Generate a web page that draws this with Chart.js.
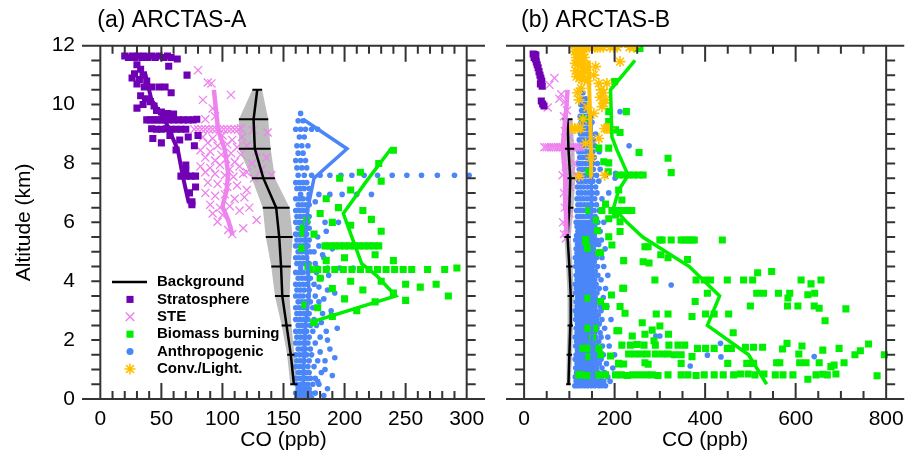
<!DOCTYPE html>
<html>
<head>
<meta charset="utf-8">
<script src="https://cdn.jsdelivr.net/npm/chart.js"></script>
<style>
  html, body { margin: 0; padding: 0; background: #fff; }
  #wrap { position: relative; width: 912px; height: 462px; }
  #wrap canvas { position: absolute; left: 0; top: 0; }
</style>
</head>
<body>
<div id="wrap">
  <canvas id="chartA" width="912" height="462"></canvas>
  <canvas id="chartB" width="912" height="462"></canvas>
</div>
<script>
// ---------- data (CO in ppb, altitude in km) ----------

// (a) ARCTAS-A
const bgAltA = [0.5, 1.5, 2.5, 3.5, 4.5, 5.5, 6.5, 7.5, 8.5, 9.5, 10.5];
const bgCoA  = [158.5, 156, 152.5, 149, 148, 146.5, 144, 133.5, 126.5, 125.5, 128.5];
const bgSdA  = [3, 3, 4, 6, 8, 11, 11, 9.5, 13, 12, 4];

const stratoLineA = [[72.5,6.65],[67.6,7.55],[63.5,8.46],[52.8,9.48],[41.9,10.16],[36.4,11.12]];
const steLineA = [[108.3,5.57],[104.7,6.08],[100,6.53],[103.5,7.1],[104.7,7.67],[102,8.46],[96.4,9.16],[93,10.5]];
const bioLineA = [[172,2.6],[242,3.5],[226,4.2],[214,4.6],[206,5.5],[199,6.3],[218,7.4],[238,8.5]];
const anthLineA = [[166,0.5],[167,1.5],[168,2.5],[171,3.5],[170,4.5],[168,5.5],[170,6.5],[175,7.5],[202,8.5],[166,9.5]];

const stratoPtsA = [[20,11.65],[23,11.6],[26,11.65],[28,11.6],[31,11.65],[34,11.6],[36,11.65],[39,11.6],[42,11.65],
  [45,11.6],[48,11.65],[52,11.6],[55,11.65],[58,11.6],[63,11.55],[56,11.3],[71,11.0],[30,11.35],[33,11.2],[28,11.05],
  [35,11.0],[26,10.9],[32,10.85],[38,10.8],[30,10.7],[36,10.6],[42,10.6],[48,10.6],[53,10.6],[58,10.4],[33,10.3],
  [37,10.2],[41,10.1],[35,10.0],[44,9.95],[30,9.88],[46,9.8],[50,9.75],[55,9.7],[60,9.68],[38,9.48],[41,9.48],
  [44,9.48],[47,9.48],[50,9.48],[53,9.48],[56,9.48],[60,9.48],[64,9.48],[68,9.48],[72,9.48],[76,9.48],[79,9.5],
  [42,9.18],[46,9.16],[50,9.16],[54,9.18],[58,9.16],[62,9.16],[66,9.16],[70,9.16],[43,8.85],[50,8.7],[57,8.95],
  [65,8.8],[72,8.9],[80,8.95],[62,8.46],[77,8.6],[70,7.95],[70,7.75],[66,7.57],[70,7.57],[74,7.57],[78,7.57],
  [78,7.2],[73,7.0],[75,6.7],[75,6.6]];

const stePtsA = [[80,11.17],[88,10.75],[91,10.72],[107,10.33],[84,10.16],[92,9.87],[86,9.5],[94,9.6],[125,9.14],
  [137,9.05],[77,9.16],[80,9.16],[83,9.16],[86,9.16],[89,9.16],[92,9.16],[95,9.16],[98,9.16],[101,9.16],[104,9.16],
  [107,9.16],[110,9.16],[113,9.16],[115,9.2],[84,8.9],[92,8.85],[100,8.95],[108,8.8],[116,8.9],[88,8.7],[96,8.6],
  [104,8.65],[112,8.55],[82,8.45],[90,8.4],[99,8.3],[107,8.35],[115,8.3],[86,8.2],[94,8.1],[103,8.15],[110,8.05],
  [82,7.9],[90,7.85],[98,7.95],[106,7.8],[114,7.9],[86,7.7],[94,7.65],[102,7.6],[109,7.55],[117,7.65],[120,8.6],
  [128,8.4],[136,8.2],[124,8.0],[132,7.8],[140,7.6],[126,7.5],[120,7.7],[88,7.35],[96,7.3],[104,7.2],[112,7.25],
  [120,7.1],[86,7.0],[94,6.9],[102,6.95],[110,6.8],[118,6.85],[90,6.6],[98,6.5],[106,6.55],[114,6.4],[122,6.5],
  [92,6.3],[100,6.25],[128,6.08],[96,6.02],[117,5.8],[104.7,5.74],[108,5.6]];

const bioPtsA = [[166,5.64],[165,5.12],[170,4.5],[167.5,3.19],[169,6.08],[166,5.8],[240,8.45],[228,8.0],[213,7.7],
  [230,7.4],[196,7.5],[205,7.1],[185,6.8],[195,6.5],[180,6.3],[215,6.4],[222,6.1],[190,6.0],[205,5.9],[175,5.6],
  [230,5.7],[184,5.2],[188,5.2],[192,5.2],[196,5.2],[200,5.2],[204,5.2],[208,5.2],[212,5.2],[216,5.2],[220,5.2],
  [224,5.2],[228,5.2],[200,4.8],[225,4.9],[240,4.7],[185,4.7],[172,4.4],[178,4.4],[185,4.4],[192,4.4],[199,4.4],
  [206,4.4],[213,4.4],[220,4.4],[227,4.4],[234,4.4],[241,4.4],[248,4.4],[255,4.4],[268,4.4],[282,4.4],[292,4.45],
  [180,4.1],[205,4.0],[230,4.0],[250,3.9],[275,3.9],[190,3.75],[215,3.7],[240,3.6],[262,3.8],[285,3.5],[200,3.4],
  [225,3.3],[250,3.35],[178,3.1],[210,3.0],[190,2.8],[175,2.6]];

// dense anthropogenic cloud, one row per altitude: [km, [CO values]]
const anthRowsA = [[0.05,[161,164,167,170,173]],[0.2,[160,163,166,169,172,176]],[0.35,[162,165,168,171,186]],
  [0.5,[161,164,167,170,174,179]],[0.7,[160,163,166,169,172,176]],[0.9,[162,165,168,171,181]],
  [1.1,[160,163,166,170,175]],[1.3,[161,164,167,171,178,184]],[1.5,[160,163,166,169,173]],
  [1.7,[162,165,168,172,188]],[1.9,[160,163,166,170,176]],[2.1,[161,164,167,171,180]],
  [2.3,[160,163,166,169,174,185]],[2.5,[162,165,168,172,177]],[2.7,[160,163,166,170,175]],
  [2.9,[161,164,167,171,182]],[3.1,[160,163,166,169,174]],[3.3,[162,165,168,172,179]],
  [3.5,[160,163,166,170,176]],[3.7,[161,164,167,171,186]],[3.9,[160,163,166,169,175]],
  [4.1,[162,165,168,172,181]],[4.3,[160,163,166,170,177]],[4.45,[164,170,178,186,196,207]],
  [4.6,[161,164,167,171,176]],[4.8,[160,163,166,169,183]],[5.0,[162,165,168,172,175]],
  [5.2,[160,163,166,170,179]],[5.4,[161,164,167,171]],[5.6,[160,163,166,169]],[5.8,[162,165,168,171]],
  [6.0,[160,163,166,170,184,195]],[6.2,[161,164,167,171]],[6.4,[160,163,166,169]],[6.6,[162,165,168,171]],
  [6.8,[160,163,166,170]],[6.95,[164,171,179,188,198,210,222]],[7.15,[161,164,167,171]],[7.35,[160,163,166,169]],
  [7.6,[162,167,173,180,188,197,206,216,227,239,251,263,276,290,302]],[7.85,[161,165,169]],[8.1,[160,164,168]],
  [8.35,[162,166]],[8.6,[161,165,170]],[8.9,[163,167]],[9.16,[160,164,168,173,178]],[9.45,[162,166]],[9.7,[164]]];
const anthExtraA = [[183,0.12],[178,0.6],[190,0.8],[184,1.0],[192,1.4],[180,1.6],[186,2.0],[194,2.4],[181,2.6],
  [189,3.0],[183,3.4],[192,3.6],[179,3.8],[187,4.2],[182,4.9],[190,5.1],[178,5.5],[185,5.7],[180,6.3],[176,6.7]];

// (b) ARCTAS-B
const bgAltB = [0.5, 1.5, 2.5, 3.5, 4.5, 5.5, 6.5, 7.5, 8.5, 9.5];
const bgCoB  = [98, 100, 102, 103, 100, 96, 100, 102, 98, 96];
const bgSdB  = [5, 6, 6, 7, 7, 7, 9, 11, 13, 11];

const stratoLineB = [[22,11.7],[28,11.3],[33,11.0],[40,10.6]];
const steLineB = [[94,5.6],[92,6.5],[91,7.55],[85,8.55],[92,9.6],[96,10.5]];
const bioLineB = [[536,0.5],[496,1.5],[405,2.5],[432,3.5],[365,4.5],[262,5.5],[227,6.0],[198,6.5],[209,7.1],
  [230,7.6],[205,8.46],[194,8.9],[191,10.5],[245,11.5]];
const anthLineB = [[150,0.5],[150,1.5],[149,2.5],[150,3.5],[151,4.5],[150,5.5],[148,6.5],[148,7.5],[149,8.5],[150,9.5]];
const convLineB = [[150,7.55],[148,8.5],[146,9.5],[144,10.5],[143,11.5]];

const stratoPtsB = [[20,11.72],[23,11.7],[26,11.68],[22,11.6],[25,11.55],[27,11.45],[29,11.35],[31,11.25],[33,11.12],
  [35,11.0],[37,10.9],[39,10.8],[36,10.7],[40,10.62],[38,10.12],[41,10.02],[44,9.95]];

const stePtsB = [[56,10.67],[67,10.9],[82,10.35],[78,10.2],[52,9.9],[90,10.1],[95,9.8],[88,9.6],[96,9.3],[90,9.1],
  [100,8.9],[45,8.55],[50,8.55],[55,8.55],[60,8.55],[65,8.55],[70,8.55],[75,8.55],[80,8.55],[85,8.55],[90,8.55],
  [95,8.55],[100,8.55],[105,8.55],[110,8.55],[115,8.55],[120,8.55],[125,8.55],[100,8.2],[110,8.0],[92,7.9],
  [104,7.75],[115,7.6],[122,7.55],[85,7.6],[95,7.4],[102,7.2],[88,7.0],[96,6.8],[90,6.5],[100,6.3],[86,6.0],
  [94,5.8],[88,5.6],[92,5.45]];

const convPtsB = [[114,11.95],[120,11.95],[126,11.95],[132,11.95],[138,11.95],[144,11.95],[150,11.95],[156,11.95],
  [162,11.95],[168,11.95],[175,11.95],[190,11.95],[198,11.95],[206,11.95],[233,11.95],[243,11.95],[112,11.8],
  [118,11.75],[124,11.8],[130,11.7],[115,11.6],[121,11.55],[127,11.5],[133,11.6],[113,11.4],[119,11.35],[125,11.3],
  [131,11.4],[137,11.25],[114,11.15],[120,11.1],[126,11.05],[132,11.15],[116,10.95],[122,10.9],[128,10.85],
  [134,10.9],[140,10.8],[212,11.46],[158,11.29],[154,11.0],[165,10.72],[183,10.72],[170,10.5],[176,10.4],
  [168,10.25],[180,10.15],[172,9.93],[176,10.05],[121.5,10.16],[118,10.4],[126,10.55],[154,9.7],[178,9.19],
  [183,9.19],[188,9.19],[106,9.19],[112,9.19],[118,9.19],[125,9.19],[165,8.85],[136,8.68],[121.5,7.57],[178,7.6],
  [148,8.2],[140,9.9],[130,9.5]];

const bioPtsB = [[256,11.91],[249,11.91],[200,10.78],[187,9.76],[226,9.76],[132,9.53],[187,9.42],[202,9.14],
  [212,9.05],[165,8.52],[187,8.52],[254,8.37],[318,8.18],[176,8.06],[187,8.02],[186,7.72],[143,7.72],[209,7.61],
  [220,7.61],[231,7.61],[242,7.61],[253,7.61],[263,7.61],[325,7.69],[209,7.1],[216,6.76],[180,6.62],[143,6.4],
  [172,6.4],[194,6.4],[205,6.4],[216,6.4],[227,6.4],[238,6.4],[202,6.25],[158,6.08],[187,6.12],[212,6.02],
  [162,5.72],[212,5.69],[136,5.42],[300,5.4],[305,5.4],[325,5.4],[347,5.4],[355,5.4],[362,5.4],[370,5.4],
  [376,5.4],[438,5.4],[267,5.17],[274,5.17],[140,5.12],[187,5.51],[165,4.97],[302,4.9],[318,4.8],[220,4.7],
  [263,4.66],[276,4.62],[361,4.74],[516,4.29],[547,4.33],[289,4.04],[380,4.04],[398,4.04],[412,4.04],[449,4.04],
  [485,4.04],[505,4.04],[612,4.04],[634,3.91],[656,4.04],[405,3.59],[514,3.59],[529,3.59],[562,3.59],[587,3.59],
  [583,3.43],[627,3.54],[642,3.59],[220,3.76],[378,3.31],[500,3.16],[582,3.16],[605,3.16],[641,3.16],[652,3.08],
  [711,3.06],[292,2.89],[318,2.89],[371,2.8],[401,2.89],[420,2.89],[452,2.89],[665,2.66],[261,2.59],[283,2.34],
  [300,2.48],[462,2.25],[205,2.32],[267,2.2],[319,2.2],[239,2.14],[287,1.98],[216,1.83],[235,1.83],[250,1.85],
  [265,1.83],[290,1.83],[320,1.83],[340,1.83],[355,1.83],[383,1.72],[401,1.72],[420,1.72],[449,1.72],[458,1.72],
  [489,1.76],[507,1.76],[527,1.76],[571,1.7],[581,1.89],[614,1.8],[696,1.72],[743,1.64],[761,1.87],[660,1.66],
  [607,1.53],[731,1.5],[796,1.5],[231,1.53],[245,1.53],[258,1.53],[272,1.53],[290,1.53],[305,1.53],[318,1.53],
  [332,1.5],[347,1.5],[371,1.44],[267,1.23],[274,1.18],[347,1.21],[450,1.21],[492,1.21],[507,1.21],[558,1.23],
  [565,1.23],[609,1.23],[623,1.23],[652,1.23],[678,1.1],[685,1.15],[707,1.23],[209,1.19],[220,1.19],[627,0.67],
  [121,0.82],[140,0.8],[165,0.82],[180,0.82],[202,0.82],[215,0.82],[228,0.8],[240,0.82],[255,0.82],[270,0.82],
  [283,0.82],[296,0.8],[318,0.82],[347,0.82],[362,0.82],[380,0.8],[398,0.82],[420,0.82],[440,0.82],[463,0.82],
  [478,0.85],[495,0.85],[510,0.82],[530,0.85],[555,0.82],[572,0.82],[594,0.82],[645,0.82],[660,0.84],[670,0.82],
  [689,0.85],[780,0.79],[136,5.34],[146,5.12],[194,5.23],[169,4.97],[218,3.76],[193,3.53],[141,3.42],[169,3.31],
  [180,3.14],[212,3.14],[223,2.91],[141,2.4],[156,2.4],[151,2.1],[209,2.32],[130,1.72],[143,1.72],[165,1.72],
  [143,1.44],[169,1.5],[191,1.46],[209,1.21],[125,0.82]];

const anthRowsB = [[0.45,[112,118,125,133,140,148,156,165,172,180]],[0.6,[115,121,128,136,144,152,160,168,176,190]],
  [0.75,[113,119,126,134,141,149,158,170,185]],[0.9,[116,122,130,138,146,155,163,178]],
  [1.05,[114,120,127,135,143,151,160,172,196]],[1.2,[117,124,131,139,147,156,166,182]],
  [1.35,[113,119,126,134,142,150,159,170]],[1.5,[115,122,129,137,145,153,162,175,200]],
  [1.65,[118,125,132,140,148,157,167]],[1.8,[114,120,127,135,143,152,161,173,188]],
  [1.95,[116,123,130,138,146,155,165]],[2.1,[113,119,126,134,142,150,158,170,185]],
  [2.25,[117,124,131,139,147,156,168]],[2.4,[115,121,128,136,144,152,161,178]],
  [2.55,[118,125,132,140,148,157,166]],[2.7,[114,120,127,135,143,151,160,172,192]],
  [2.85,[116,123,130,138,146,155,164]],[3.0,[113,119,126,134,142,150,159,170]],
  [3.15,[117,124,131,139,147,156,168,183]],[3.3,[115,121,128,136,144,153,162]],
  [3.45,[118,125,132,140,148,157,175]],[3.6,[114,120,127,135,143,152,161]],
  [3.75,[116,123,130,138,146,155,166,180]],[3.9,[113,119,126,134,142,150,159]],
  [4.05,[117,124,131,139,147,156,170]],[4.2,[115,121,128,136,144,153,163,185]],
  [4.35,[118,125,132,140,148,157]],[4.5,[114,120,127,135,143,151,162,176]],[4.65,[116,123,130,138,146,155]],
  [4.8,[113,119,126,134,142,150,160,172]],[4.95,[117,124,131,139,147,156,168]],[5.1,[115,121,128,136,144,153,179]],
  [5.25,[118,125,132,140,148,157,165]],[5.4,[114,120,127,135,143,151,160,171]],[5.55,[116,123,130,138,146,155]],
  [5.7,[119,126,134,142,150,159,168]],[5.85,[117,124,131,139,147,156]],[6.0,[115,121,128,136,144,153,163,176]],
  [6.2,[118,125,132,140,148,157]],[6.4,[116,123,130,138,146,155,166]],[6.6,[119,126,134,142,150,160]],
  [6.8,[117,124,131,139,147,156,172]],[7.0,[120,127,135,143,151,161,187]],[7.2,[118,125,132,140,148,158]],
  [7.4,[121,128,136,144,152,165]],[7.6,[119,126,134,142,150,160,180,203]],[7.8,[122,129,137,145,153,168]],
  [8.0,[120,127,135,143,151,162]],[8.2,[123,130,138,146,155]],[8.4,[121,128,136,144,152,166]],
  [8.6,[124,131,139,147,156,232]],[8.8,[122,129,137,145,153]],[9.0,[125,132,140,148,158]],[9.2,[123,130,138,146]],
  [9.4,[126,133,141,150]],[9.6,[124,131,139,148]],[9.76,[212]],[9.8,[127,134,142]],[10.0,[125,132,140]],
  [10.2,[128,136]],[10.4,[130]]];
const anthExtraB = [[325,3.87],[434,1.89],[405,1.49],[435,1.43],[641,1.44],[367,1.12],[291,2.14],[300,2.14],[202,7.67],[201,7.5]];

// ---------- styling ----------
const FONT = '"Liberation Sans", Arial, Helvetica, sans-serif';
Chart.defaults.font.family = FONT;
Chart.defaults.color = '#000';

const C = {
  strat: '#7000b4', ste: '#ee82ee', bio: '#00ee00', anth: '#4a86f7', conv: '#ffc000',
  bg: '#000000', band: '#bdbdbd', frame: '#333333'
};

const pts = arr => arr.map(p => ({x: p[0], y: p[1]}));
const rows = arr => arr.flatMap(r => r[1].map(v => ({x: v, y: r[0]})));

function pointSet(data, color, style, radius, border, order) {
  return { data, showLine: false, pointStyle: style, pointRadius: radius, pointHoverRadius: radius,
    pointBackgroundColor: color, pointBorderColor: color, pointBorderWidth: border, order };
}
function lineSet(data, color, width, order) {
  return { data, showLine: true, borderColor: color, borderWidth: width, pointRadius: 0,
    pointHoverRadius: 0, fill: false, tension: 0, order };
}
function backgroundSets(alt, co, sd) {
  const left = alt.map((a, i) => ({x: co[i] - sd[i], y: a}));
  const right = alt.map((a, i) => ({x: co[i] + sd[i], y: a})).reverse();
  const sets = [{ data: left.concat(right), showLine: true, fill: 'shape', backgroundColor: C.band,
    borderWidth: 0, borderColor: 'rgba(0,0,0,0)', pointRadius: 0, order: 30 }];
  sets.push(lineSet(alt.map((a, i) => ({x: co[i], y: a})), C.bg, 2.5, 4));
  alt.forEach((a, i) => {
    sets.push(lineSet([{x: co[i] - sd[i], y: a}, {x: co[i] + sd[i], y: a}], C.bg, 2, 4));
  });
  return sets;
}

// frame: horizontal box lines, vertical axes at the data limits, inward/outward ticks
const panelFrame = {
  id: 'panelFrame',
  afterDraw(chart, args, o) {
    const {ctx, chartArea: a, scales: {x, y}} = chart;
    const xl = x.getPixelForValue(o.lo), xr = x.getPixelForValue(o.hi);
    ctx.save();
    ctx.strokeStyle = C.frame;
    ctx.lineWidth = 2;
    ctx.beginPath();
    ctx.moveTo(a.left, a.top); ctx.lineTo(a.right, a.top);
    ctx.moveTo(a.left, a.bottom); ctx.lineTo(a.right, a.bottom);
    ctx.moveTo(xl, a.top); ctx.lineTo(xl, a.bottom);
    ctx.moveTo(xr, a.top); ctx.lineTo(xr, a.bottom);
    for (let v = o.lo + o.minor; v < o.hi - 1e-6; v += o.minor) {
      const px = x.getPixelForValue(v);
      const len = Math.abs(v % o.major) < 1e-6 ? 16 : 8;
      ctx.moveTo(px, a.top); ctx.lineTo(px, a.top + len);
      ctx.moveTo(px, a.bottom); ctx.lineTo(px, a.bottom - len);
    }
    for (let k = 0.5; k < 12; k += 0.5) {
      const py = y.getPixelForValue(k);
      ctx.moveTo(xl, py); ctx.lineTo(xl - 9, py);
      ctx.moveTo(xr, py); ctx.lineTo(xr + 9, py);
    }
    ctx.stroke();
    ctx.restore();
  }
};

const panelTitle = {
  id: 'panelTitle',
  afterDraw(chart, args, o) {
    const {ctx, scales: {x}} = chart;
    ctx.save();
    ctx.font = '23px ' + FONT;
    ctx.fillStyle = '#000';
    ctx.textBaseline = 'middle';
    ctx.fillText(o.text, x.getPixelForValue(0) - 3, 21);
    ctx.restore();
  }
};

const legendItems = [
  {label: 'Background', line: true, color: C.bg},
  {label: 'Stratosphere', style: 'rect', r: 5, bw: 0, color: C.strat},
  {label: 'STE', style: 'crossRot', r: 6, bw: 1.5, color: C.ste},
  {label: 'Biomass burning', style: 'rect', r: 5, bw: 0, color: C.bio},
  {label: 'Anthropogenic', style: 'circle', r: 3.5, bw: 0, color: C.anth},
  {label: 'Conv./Light.', style: 'star', r: 5.5, bw: 1.6, color: C.conv}
];

const panelLegend = {
  id: 'panelLegend',
  afterDraw(chart) {
    const ctx = chart.ctx;
    ctx.save();
    ctx.font = 'bold 15px ' + FONT;
    ctx.textBaseline = 'middle';
    legendItems.forEach((it, i) => {
      const yy = 282 + i * 17.4;
      ctx.fillStyle = it.color;
      ctx.strokeStyle = it.color;
      if (it.line) {
        ctx.lineWidth = 2.5;
        ctx.beginPath(); ctx.moveTo(112, yy); ctx.lineTo(147, yy); ctx.stroke();
      } else {
        ctx.lineWidth = it.bw;
        Chart.helpers.drawPoint(ctx, {pointStyle: it.style, radius: it.r, borderWidth: it.bw, rotation: 0}, 130, yy);
      }
      ctx.fillStyle = '#000';
      ctx.fillText(it.label, 157, yy);
    });
    ctx.restore();
  }
};

function xAxis(min, max, step) {
  return {
    type: 'linear', position: 'bottom', min, max,
    afterFit: s => { s.height = 63; },
    grid: {display: false, drawTicks: false}, border: {display: false},
    ticks: {stepSize: step, includeBounds: false, padding: 8, maxRotation: 0, autoSkip: false,
      color: '#000', font: {size: 21}},
    title: {display: true, text: 'CO (ppb)', color: '#000', font: {size: 21}, padding: {top: 0, bottom: 9}}
  };
}

const baseOptions = {
  responsive: false, animation: false, devicePixelRatio: 1, events: [],
  plugins: {legend: {display: false}, tooltip: {enabled: false}}
};

// ---------- panel (a) ----------
new Chart(document.getElementById('chartA'), {
  type: 'scatter',
  data: {
    datasets: [
      ...backgroundSets(bgAltA, bgCoA, bgSdA),
      pointSet(rows(anthRowsA).concat(pts(anthExtraA)), C.anth, 'circle', 2.8, 0, 14),
      pointSet(pts(stePtsA), C.ste, 'crossRot', 5.7, 1.3, 13),
      pointSet(pts(stratoPtsA), C.strat, 'rect', 5, 0, 12),
      pointSet(pts(bioPtsA), C.bio, 'rect', 5, 0, 11),
      lineSet(pts(anthLineA), C.anth, 3.5, 2),
      lineSet(pts(bioLineA), C.bio, 3.5, 2),
      lineSet(pts(steLineA), C.ste, 4.5, 2),
      lineSet(pts(stratoLineA), C.strat, 4, 2)
    ]
  },
  options: {
    ...baseOptions,
    layout: {padding: {left: 0, right: 427, top: 45.7, bottom: 0}},
    plugins: {...baseOptions.plugins,
      panelFrame: {lo: 0, hi: 300, minor: 10, major: 50},
      panelTitle: {text: '(a) ARCTAS-A'}},
    scales: {
      x: xAxis(-15, 315, 50),
      y: {
        type: 'linear', min: 0, max: 12,
        afterFit: s => { s.width = 82; },
        grid: {display: false, drawTicks: false}, border: {display: false},
        ticks: {stepSize: 2, padding: 7, color: '#000', font: {size: 21}},
        title: {display: true, text: 'Altitude (km)', color: '#000', font: {size: 21}, padding: {top: 12, bottom: 0}}
      }
    }
  },
  plugins: [panelFrame, panelTitle, panelLegend]
});

// ---------- panel (b) ----------
new Chart(document.getElementById('chartB'), {
  type: 'scatter',
  data: {
    datasets: [
      ...backgroundSets(bgAltB, bgCoB, bgSdB),
      pointSet(rows(anthRowsB).concat(pts(anthExtraB)), C.anth, 'circle', 2.8, 0, 14),
      pointSet(pts(stePtsB), C.ste, 'crossRot', 5.7, 1.3, 13),
      pointSet(pts(stratoPtsB), C.strat, 'rect', 5, 0, 12),
      pointSet(pts(bioPtsB), C.bio, 'rect', 5, 0, 11),
      pointSet(pts(convPtsB), C.conv, 'star', 5.5, 1.6, 10),
      lineSet(pts(anthLineB), C.anth, 3, 3),
      lineSet(pts(bioLineB), C.bio, 3.5, 2),
      lineSet(pts(steLineB), C.ste, 4.5, 2),
      lineSet(pts(stratoLineB), C.strat, 4, 2),
      lineSet(pts(convLineB), C.conv, 4, 2)
    ]
  },
  options: {
    ...baseOptions,
    layout: {padding: {left: 506, right: 3, top: 45.7, bottom: 0}},
    plugins: {...baseOptions.plugins,
      panelFrame: {lo: 0, hi: 800, minor: 50, major: 200},
      panelTitle: {text: '(b) ARCTAS-B'}},
    scales: {
      x: xAxis(-40, 840, 200),
      y: {type: 'linear', min: 0, max: 12, display: false}
    }
  },
  plugins: [panelFrame, panelTitle]
});
</script>
</body>
</html>
